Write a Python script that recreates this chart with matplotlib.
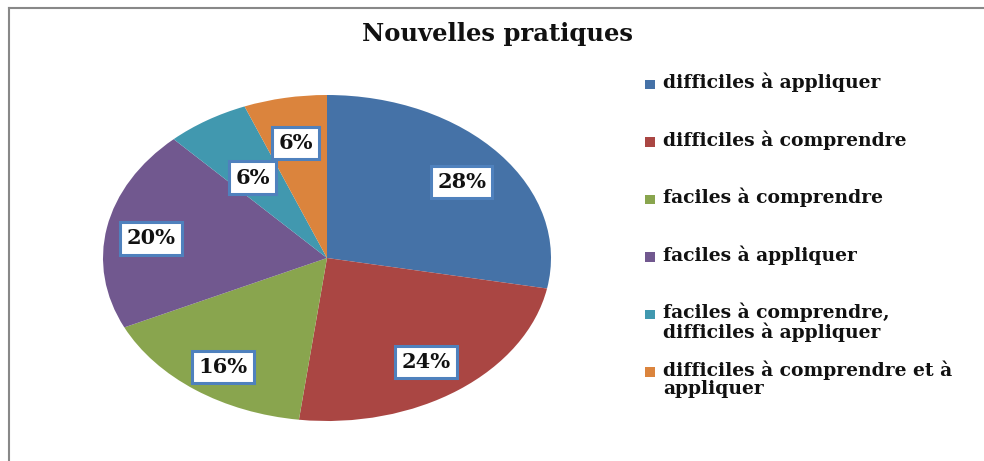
import numpy as np
import matplotlib.pyplot as plt
from matplotlib.lines import Line2D
from matplotlib.patches import Rectangle

# Data
categories = [
    "difficiles à appliquer",
    "difficiles à comprendre",
    "faciles à comprendre",
    "faciles à appliquer",
    "faciles à comprendre,\ndifficiles à appliquer",
    "difficiles à comprendre et à\nappliquer",
]
values = [28, 24, 16, 20, 6, 6]
colors = ["#4572A7", "#AA4643", "#89A54E", "#71588F", "#4198AF", "#DB843D"]
label_dist = [0.78, 0.75, 0.79, 0.8, 0.62, 0.75]  # how far out each % box sits

W, H = 984, 461
font = "DejaVu Serif"
ink = "#111111"

fig = plt.figure(figsize=(W / 100, H / 100), dpi=100)

# elliptical pie: axes spans the ellipse box, aspect left free
ax = fig.add_axes([103 / W, (H - 421) / H, 448 / W, 326 / H])
wedges, texts = ax.pie(values, colors=colors, startangle=90, counterclock=False,
                       wedgeprops=dict(linewidth=0))
ax.set_aspect("auto")
ax.set_xlim(-1, 1)
ax.set_ylim(-1, 1)
ax.axis("off")

total = sum(values)
for w, v, d in zip(wedges, values, label_dist):
    ang = np.deg2rad((w.theta1 + w.theta2) / 2)
    ax.text(d * np.cos(ang), d * np.sin(ang) - 0.03, f"{100 * v / total:.0f}%",
            ha="center", va="center", fontfamily=font, fontweight="bold",
            fontsize=15, color=ink,
            bbox=dict(boxstyle="square,pad=0.3", facecolor="white",
                      edgecolor="#4F81BD", linewidth=2.2))

fig.text(498 / W, 1 - 34 / H, "Nouvelles pratiques", ha="center", va="center",
         fontfamily=font, fontweight="bold", fontsize=17.5, color=ink)

# legend drawn by hand: first lines evenly spaced, second lines hang below
leg_x, leg_y0, leg_step = 645, 85, 57.4
for i, (lab, c) in enumerate(zip(categories, colors)):
    y = leg_y0 + i * leg_step
    fig.add_artist(Rectangle((leg_x / W, 1 - (y + 4.5) / H), 9.5 / W, 9.5 / H,
                             transform=fig.transFigure, facecolor=c, edgecolor="none"))
    fig.text((leg_x + 18) / W, 1 - (y - 12) / H, lab, ha="left", va="top",
             fontfamily=font, fontweight="bold", fontsize=13.5, color=ink,
             linespacing=1.0)

# chart border (top and left only visible)
fig.add_artist(Line2D([8.5 / W, 1], [1 - 8.5 / H, 1 - 8.5 / H], color="#888888", lw=1.5))
fig.add_artist(Line2D([8.5 / W, 8.5 / W], [0, 1 - 8.5 / H], color="#888888", lw=1.5))

fig.savefig("out.png", dpi=100)
